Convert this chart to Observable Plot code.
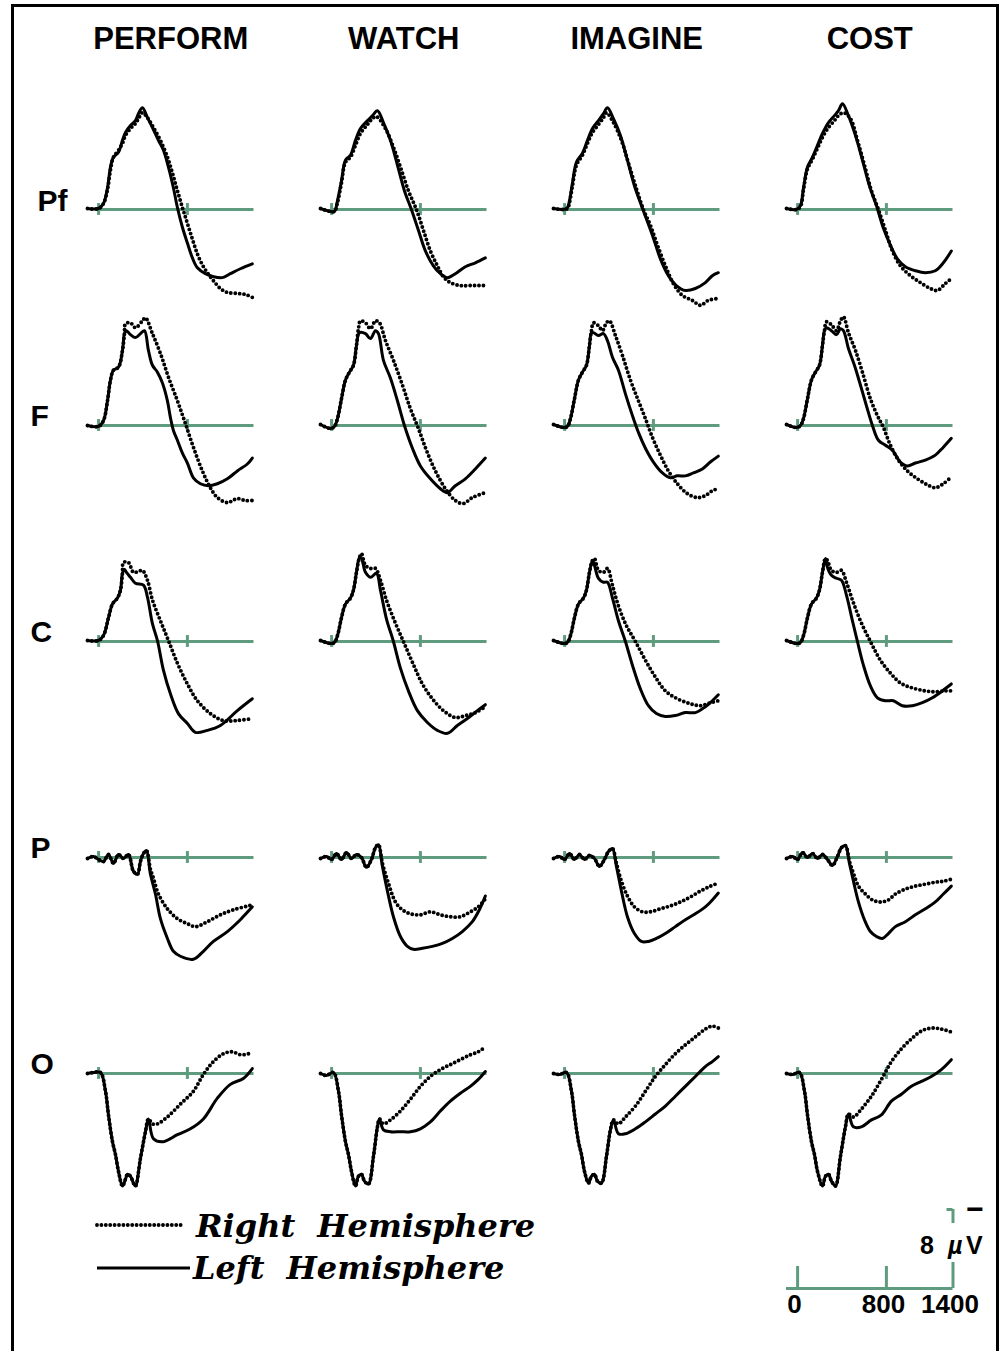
<!DOCTYPE html>
<html><head><meta charset="utf-8">
<script src="https://cdn.jsdelivr.net/npm/d3@7"></script>
<script src="https://cdn.jsdelivr.net/npm/@observablehq/plot@0.6"></script>
<style>
html,body{margin:0;padding:0;background:#fff;}
#fig{position:relative;width:1004px;height:1351px;overflow:hidden;background:#fff;}
#fig svg{position:absolute;left:0;background:transparent !important;overflow:visible;max-width:none;}
#frame{position:absolute;left:11px;top:4px;width:982px;height:1400px;border:3px solid #000;border-bottom:none;z-index:5;pointer-events:none;}
</style></head>
<body><div id="fig"><div id="frame"></div></div>
<script>
// ---------- categories / labels ----------
const columns = ["PERFORM", "WATCH", "IMAGINE", "COST"];
const rows = ["Pf", "F", "C", "P", "O"];
const baselineTicks = [0, 800];           // ms
const scaleTicks = [0, 800, 1400];        // ms
const scaleTickLabels = ["0", "800", "1400"];
const scaleAmplitude = 8;                 // µV
const legendLabels = ["Right Hemisphere", "Left Hemisphere"];

// ---------- waveforms: [time ms, amplitude µV] (negative up) ----------
const perform_Pf_right = [[-100,-0.1],[0,-0.1],[44,-0.6],[80,-2.0],[107,-4.0],[134,-5.3],[179,-6.0],[215,-6.7],[242,-7.5],[287,-8.2],[332,-8.7],[359,-9.2],[395,-9.8],[440,-9.3],[494,-8.3],[557,-7.0],[620,-5.3],[665,-3.7],[710,-1.9],[755,-0.2],[800,1.4],[845,3.0],[890,4.5],[935,5.6],[980,6.4],[1034,7.2],[1097,8.0],[1160,8.4],[1250,8.5],[1322,8.6],[1385,8.9]];
const perform_Pf_left = [[-100,-0.1],[0,-0.1],[44,-0.6],[80,-2.2],[107,-4.3],[134,-5.3],[179,-5.8],[215,-7.0],[242,-7.8],[287,-8.5],[332,-9.0],[359,-9.7],[395,-10.3],[440,-9.3],[485,-8.3],[539,-7.0],[584,-6.0],[629,-4.3],[674,-2.2],[710,-0.2],[755,1.8],[800,3.4],[845,4.9],[890,5.9],[962,6.5],[1034,6.8],[1115,6.9],[1187,6.5],[1277,6.0],[1385,5.5]];
const watch_Pf_right = [[-100,-0.1],[-10,0.2],[26,0.2],[53,-0.7],[89,-2.7],[125,-4.8],[170,-5.3],[215,-6.5],[260,-7.7],[323,-8.6],[368,-9.2],[404,-9.4],[485,-8.2],[557,-6.3],[620,-4.3],[692,-1.9],[764,0],[827,2.1],[890,4.2],[953,5.7],[1007,6.8],[1070,7.4],[1160,7.7],[1250,7.7],[1385,7.7]];
const watch_Pf_left = [[-100,-0.1],[-10,0.2],[26,0.2],[53,-0.9],[89,-2.9],[125,-5.0],[170,-5.5],[215,-7.0],[260,-8.2],[323,-9.0],[368,-9.5],[413,-10.0],[467,-8.8],[530,-7.0],[593,-4.5],[656,-1.9],[719,0],[782,2.1],[845,4.2],[917,5.7],[980,6.5],[1043,6.9],[1115,6.5],[1205,5.8],[1295,5.4],[1385,4.9]];
const imagine_Pf_right = [[-100,-0.1],[-10,0],[26,-0.1],[44,-0.7],[71,-2.4],[107,-4.5],[161,-5.5],[206,-6.7],[251,-7.8],[305,-8.6],[350,-9.3],[377,-9.8],[440,-8.8],[512,-7.0],[575,-4.7],[647,-2.1],[710,0],[773,1.6],[836,3.6],[908,5.7],[980,7.5],[1061,8.7],[1151,9.2],[1223,9.7],[1295,9.2],[1385,9.0]];
const imagine_Pf_left = [[-100,-0.1],[-10,0],[26,-0.2],[44,-0.9],[71,-2.7],[107,-4.8],[161,-5.7],[206,-7.0],[251,-8.2],[305,-9.0],[350,-9.7],[386,-10.3],[440,-9.2],[503,-7.5],[566,-5.0],[629,-2.4],[692,-0.4],[791,2.6],[863,5.0],[935,6.7],[1007,7.7],[1088,8.2],[1178,8.0],[1268,7.4],[1331,6.7],[1385,6.4]];
const cost_Pf_right = [[-100,-0.1],[-10,0],[26,-0.3],[53,-2.0],[89,-4.1],[134,-5.1],[179,-6.2],[224,-7.3],[278,-8.3],[332,-9.0],[368,-9.5],[413,-9.8],[476,-9.2],[539,-7.0],[602,-4.5],[665,-1.9],[728,0],[791,2.1],[854,4.2],[926,5.7],[1016,6.7],[1106,7.4],[1196,8.0],[1259,8.2],[1331,7.5],[1385,7.0]];
const cost_Pf_left = [[-100,-0.1],[-10,0],[26,-0.4],[53,-2.2],[89,-4.3],[134,-5.3],[179,-6.5],[224,-7.7],[278,-8.8],[332,-9.5],[368,-10.0],[404,-10.7],[458,-9.5],[521,-7.5],[584,-5.0],[647,-2.4],[710,-0.4],[773,1.9],[836,3.6],[899,5.0],[971,5.8],[1061,6.2],[1151,6.4],[1241,6.2],[1313,5.4],[1385,4.2]];

const perform_F_right = [[-100,0],[-1,0.1],[44,-0.5],[80,-2.5],[107,-4.6],[134,-5.6],[179,-5.9],[215,-7.6],[233,-9.3],[242,-10.3],[287,-10.4],[332,-9.9],[395,-10.6],[422,-10.9],[485,-9.3],[557,-7.3],[629,-4.9],[710,-2.5],[782,-0.2],[854,2.2],[935,4.6],[1007,6.3],[1070,7.3],[1160,7.8],[1250,7.4],[1322,7.6],[1385,7.6]];
const perform_F_left = [[-100,0],[-1,0.1],[44,-0.5],[80,-2.5],[107,-4.6],[134,-5.6],[179,-5.9],[215,-7.6],[233,-9.3],[251,-9.6],[287,-9.2],[332,-8.9],[377,-9.3],[413,-9.6],[449,-7.6],[485,-6.1],[530,-5.4],[575,-4.3],[620,-2.5],[647,-0.8],[674,0.5],[710,1.5],[755,2.8],[800,3.8],[854,5.3],[917,5.9],[989,6.1],[1070,5.9],[1160,5.4],[1250,4.6],[1340,3.9],[1385,3.3]];
const watch_F_right = [[-100,-0.1],[-10,0.3],[26,0.1],[53,-0.7],[89,-2.7],[125,-4.6],[161,-5.4],[197,-6.1],[224,-8.1],[242,-9.8],[260,-10.6],[305,-10.4],[350,-9.8],[395,-10.6],[431,-10.4],[485,-8.6],[557,-6.6],[638,-4.1],[710,-1.7],[782,0.3],[854,2.5],[935,4.6],[1025,6.4],[1115,7.6],[1187,7.9],[1268,7.3],[1385,6.8]];
const watch_F_left = [[-100,-0.1],[-10,0.3],[26,0.1],[53,-0.7],[89,-2.7],[125,-4.6],[161,-5.4],[197,-6.1],[224,-8.1],[251,-9.4],[305,-9.3],[350,-8.8],[395,-9.6],[422,-9.3],[467,-6.6],[530,-4.8],[593,-2.5],[656,0],[728,2.3],[800,4.1],[890,5.4],[980,6.4],[1043,6.8],[1115,6.1],[1205,5.4],[1295,4.4],[1385,3.3]];
const imagine_F_right = [[-100,-0.1],[-10,0.2],[26,0.1],[53,-0.7],[89,-2.7],[125,-4.6],[161,-5.4],[197,-6.1],[224,-8.1],[242,-9.6],[260,-10.4],[305,-10.1],[341,-9.6],[377,-10.4],[404,-10.6],[458,-9.1],[521,-7.1],[593,-4.6],[665,-2.5],[728,-0.7],[791,1.2],[863,3.0],[935,4.6],[1016,5.9],[1106,6.9],[1196,7.3],[1268,7.1],[1331,6.6],[1385,6.4]];
const imagine_F_left = [[-100,-0.1],[-10,0.2],[26,0.1],[53,-0.7],[89,-2.7],[125,-4.6],[161,-5.4],[197,-6.1],[224,-8.1],[242,-9.4],[260,-9.4],[305,-9.1],[350,-9.3],[386,-8.6],[431,-6.9],[485,-5.6],[548,-3.2],[611,-1.0],[665,0.7],[728,2.3],[800,3.7],[881,4.8],[953,5.3],[1016,5.1],[1088,5.1],[1160,4.8],[1241,4.4],[1313,3.7],[1385,3.1]];
const cost_F_right = [[-100,-0.1],[-10,0.2],[26,0],[53,-0.7],[89,-2.7],[125,-4.6],[161,-5.4],[197,-6.1],[224,-8.1],[242,-9.6],[260,-10.5],[305,-10.2],[350,-9.6],[386,-10.6],[413,-11.0],[458,-9.4],[521,-7.6],[584,-5.4],[656,-2.7],[719,-1.0],[773,0.2],[836,2.0],[908,3.5],[989,4.6],[1079,5.4],[1169,6.0],[1241,6.3],[1313,5.9],[1385,5.2]];
const cost_F_left = [[-100,-0.1],[-10,0.2],[26,0],[53,-0.7],[89,-2.7],[125,-4.6],[161,-5.4],[197,-6.1],[224,-8.1],[242,-9.6],[260,-9.9],[305,-9.6],[350,-9.2],[386,-9.8],[413,-9.6],[458,-7.8],[512,-6.1],[566,-4.1],[620,-2.0],[674,0],[728,1.5],[791,2.0],[854,2.5],[926,3.7],[989,4.1],[1061,3.8],[1151,3.5],[1241,3.0],[1313,2.2],[1385,1.3]];

const perform_C_right = [[-100,-0.1],[-1,-0.1],[44,-0.6],[89,-2.4],[125,-3.8],[170,-4.4],[197,-5.2],[215,-6.9],[224,-8.0],[269,-8.0],[314,-7.0],[359,-7.1],[395,-7.2],[440,-6.2],[485,-4.2],[557,-2.1],[629,-0.1],[710,2.2],[800,4.3],[890,6.0],[1007,7.3],[1124,8.0],[1250,8.0],[1385,7.8]];
const perform_C_left = [[-100,-0.1],[-1,-0.1],[44,-0.6],[89,-2.4],[125,-3.8],[170,-4.4],[197,-5.2],[215,-6.9],[233,-7.3],[251,-7.0],[287,-6.5],[332,-5.9],[404,-5.7],[440,-4.5],[485,-1.8],[530,-0.1],[584,2.9],[647,5.3],[719,7.3],[800,8.3],[872,9.2],[980,9.0],[1097,8.5],[1250,7.0],[1385,5.8]];
const watch_C_right = [[-100,-0.1],[-10,0.2],[26,0.1],[53,-0.6],[89,-2.4],[125,-3.8],[170,-4.4],[197,-5.2],[224,-7.0],[251,-8.5],[269,-8.9],[305,-7.7],[350,-7.4],[395,-7.4],[440,-6.2],[494,-4.2],[566,-2.1],[647,0],[728,2.1],[818,4.3],[908,5.8],[1007,7.0],[1115,7.7],[1205,7.5],[1295,7.2],[1385,6.6]];
const watch_C_left = [[-100,-0.1],[-10,0.2],[26,0.1],[53,-0.6],[89,-2.4],[125,-3.8],[170,-4.4],[197,-5.2],[224,-7.0],[251,-8.5],[269,-8.4],[305,-7.0],[350,-6.5],[404,-6.9],[440,-5.2],[494,-2.3],[557,0],[620,2.7],[692,5.0],[773,7.0],[863,8.2],[953,9.0],[1043,9.3],[1133,8.5],[1223,7.8],[1313,7.0],[1385,6.4]];
const imagine_C_right = [[-100,-0.1],[-10,0.2],[26,0.1],[53,-0.6],[89,-2.4],[125,-3.8],[170,-4.4],[197,-5.2],[224,-7.0],[251,-8.2],[269,-8.4],[305,-7.2],[350,-7.0],[386,-7.4],[431,-5.7],[485,-3.6],[557,-1.6],[638,0],[728,1.9],[818,3.6],[908,5.0],[1016,5.8],[1133,6.3],[1223,6.5],[1313,6.2],[1385,6.0]];
const imagine_C_left = [[-100,-0.1],[-10,0.2],[26,0.1],[53,-0.6],[89,-2.4],[125,-3.8],[170,-4.4],[197,-5.2],[224,-7.0],[251,-8.2],[269,-7.7],[305,-6.4],[350,-6.0],[386,-6.0],[431,-4.4],[485,-2.1],[548,0],[611,2.4],[683,4.8],[755,6.5],[827,7.3],[908,7.6],[998,7.5],[1088,7.2],[1178,7.2],[1268,6.6],[1331,6.0],[1385,5.4]];
const cost_C_right = [[-100,-0.1],[-10,0.2],[26,0.1],[53,-0.6],[89,-2.4],[125,-3.8],[170,-4.4],[197,-5.2],[224,-7.0],[251,-8.4],[269,-8.2],[305,-7.2],[350,-7.0],[395,-7.2],[440,-6.0],[494,-4.2],[566,-2.1],[656,0],[746,1.9],[836,3.2],[926,4.2],[1034,4.7],[1151,5.0],[1241,5.1],[1331,5.0],[1385,5.0]];
const cost_C_left = [[-100,-0.1],[-10,0.2],[26,0.1],[53,-0.6],[89,-2.4],[125,-3.8],[170,-4.4],[197,-5.2],[224,-7.0],[251,-8.4],[269,-7.5],[305,-6.7],[350,-6.4],[395,-6.2],[440,-4.7],[494,-2.1],[539,0],[593,2.4],[656,4.5],[719,5.7],[791,6.0],[863,6.0],[944,6.5],[1034,6.5],[1124,6.2],[1214,5.7],[1304,5.0],[1385,4.3]];

const perform_P_right = [[-100,0.1],[-46,-0.1],[-1,0.2],[44,0.4],[89,-0.3],[134,0.6],[179,-0.3],[224,0.1],[269,-0.3],[314,1.4],[350,1.7],[377,0.4],[404,-0.4],[431,-0.7],[467,1.2],[494,2.1],[539,3.7],[620,5.2],[710,6.2],[800,6.7],[872,7.0],[980,6.5],[1097,5.8],[1214,5.3],[1385,4.8]];
const perform_P_left = [[-100,0.1],[-46,-0.1],[-1,0.2],[44,0.4],[89,-0.3],[134,0.6],[179,-0.3],[224,0.1],[269,-0.3],[314,1.4],[350,1.7],[377,0.4],[404,-0.4],[431,-0.7],[467,1.7],[512,3.7],[557,6.2],[620,8.2],[674,9.5],[737,10.0],[854,10.3],[944,9.5],[1034,8.5],[1160,7.5],[1277,6.3],[1385,5.0]];
const watch_P_right = [[-100,0.1],[-46,-0.1],[-1,0.2],[44,-0.4],[89,0.2],[134,-0.5],[179,0.1],[224,-0.3],[269,0],[314,1.0],[359,0.2],[395,-1.0],[422,-1.3],[458,0.6],[512,2.6],[575,4.5],[638,5.3],[710,5.7],[800,5.8],[890,5.5],[980,5.8],[1070,6.0],[1160,6.0],[1250,5.5],[1322,5.0],[1385,4.2]];
const watch_P_left = [[-100,0.1],[-46,-0.1],[-1,0.2],[44,-0.4],[89,0.2],[134,-0.5],[179,0.1],[224,-0.3],[269,0],[314,1.0],[359,0.2],[395,-1.0],[422,-1.3],[458,0.9],[503,3.4],[557,6.0],[620,8.0],[683,9.0],[737,9.3],[818,9.2],[908,9.0],[998,8.7],[1088,8.2],[1178,7.5],[1268,6.5],[1331,5.3],[1385,3.9]];
const imagine_P_right = [[-100,0.1],[-46,-0.1],[-1,0.2],[44,-0.4],[89,0.2],[134,-0.3],[179,0.2],[224,-0.2],[269,0.1],[314,0.9],[359,0.2],[395,-0.6],[431,-0.9],[467,0.6],[512,2.4],[566,3.9],[629,5.0],[701,5.5],[773,5.5],[863,5.2],[953,4.9],[1043,4.5],[1133,4.0],[1223,3.4],[1313,2.9],[1385,2.6]];
const imagine_P_left = [[-100,0.1],[-46,-0.1],[-1,0.2],[44,-0.4],[89,0.2],[134,-0.3],[179,0.2],[224,-0.2],[269,0.1],[314,0.9],[359,0.2],[395,-0.6],[431,-0.9],[467,0.9],[512,3.4],[566,6.0],[629,7.7],[692,8.5],[755,8.5],[827,8.2],[908,7.7],[998,7.0],[1088,6.3],[1178,5.7],[1268,5.0],[1331,4.3],[1385,3.6]];
const cost_P_right = [[-100,0.1],[-46,-0.1],[-1,0.2],[44,-0.5],[89,0],[134,-0.4],[179,0.1],[224,-0.3],[269,0.2],[314,0.8],[359,-0.1],[395,-1.0],[431,-1.2],[467,0.4],[503,1.6],[548,2.9],[611,3.7],[674,4.3],[746,4.5],[818,4.3],[881,3.7],[971,3.2],[1061,2.9],[1151,2.7],[1241,2.5],[1313,2.4],[1385,2.2]];
const cost_P_left = [[-100,0.1],[-46,-0.1],[-1,0.2],[44,-0.5],[89,0],[134,-0.4],[179,0.1],[224,-0.3],[269,0.2],[314,0.8],[359,-0.1],[395,-1.0],[431,-1.2],[467,0.6],[503,2.4],[548,4.5],[602,6.3],[656,7.5],[710,8.0],[764,8.2],[818,7.7],[881,7.0],[971,6.5],[1061,5.8],[1151,5.2],[1241,4.5],[1313,3.7],[1385,2.9]];

const perform_O_right = [[-100,0],[-46,-0.1],[17,-0.1],[62,1.8],[89,4.2],[125,6.9],[152,8.2],[179,9.9],[215,11.4],[242,10.7],[260,10.2],[287,10.4],[314,11.1],[332,11.4],[377,8.6],[422,5.9],[449,4.6],[485,5.1],[530,5.1],[620,4.4],[737,3.1],[854,1.8],[944,0.1],[1034,-1.2],[1124,-2.0],[1205,-2.2],[1277,-1.9],[1349,-2.0],[1385,-2.2]];
const perform_O_left = [[-100,0],[-46,-0.1],[17,-0.1],[62,1.8],[89,4.2],[125,6.9],[152,8.2],[179,9.9],[215,11.4],[242,10.7],[260,10.2],[287,10.4],[314,11.1],[332,11.4],[377,8.6],[422,5.9],[449,4.6],[494,6.6],[584,6.9],[710,6.2],[827,5.6],[944,4.6],[1070,2.5],[1187,1.1],[1304,0.5],[1385,-0.5]];
const watch_O_right = [[-100,0],[-46,0.2],[17,-0.1],[62,1.8],[89,4.2],[125,6.9],[152,8.2],[179,9.9],[215,11.4],[242,10.4],[269,10.2],[296,10.9],[332,11.2],[377,8.4],[413,5.4],[431,4.6],[467,5.1],[530,4.7],[620,3.8],[710,2.6],[800,1.3],[890,0.3],[980,-0.4],[1070,-0.9],[1160,-1.4],[1250,-1.9],[1322,-2.2],[1385,-2.7]];
const watch_O_left = [[-100,0],[-46,0.2],[17,-0.1],[62,1.8],[89,4.2],[125,6.9],[152,8.2],[179,9.9],[215,11.4],[242,10.4],[269,10.2],[296,10.9],[332,11.2],[377,8.4],[413,5.4],[431,4.6],[467,5.7],[530,5.9],[620,5.9],[710,5.9],[800,5.6],[890,4.9],[980,3.8],[1070,2.8],[1160,2.0],[1250,1.3],[1322,0.6],[1385,-0.2]];
const imagine_O_right = [[-100,0],[-46,0.1],[17,-0.1],[62,1.8],[89,4.2],[125,6.9],[152,8.2],[179,9.9],[215,11.1],[242,10.4],[269,10.2],[296,10.9],[332,11.1],[377,8.4],[413,5.7],[440,4.7],[485,5.1],[548,4.4],[638,3.3],[728,1.8],[818,0.3],[908,-0.9],[998,-2.0],[1088,-2.9],[1178,-3.7],[1268,-4.5],[1331,-4.8],[1385,-4.6]];
const imagine_O_left = [[-100,0],[-46,0.1],[17,-0.1],[62,1.8],[89,4.2],[125,6.9],[152,8.2],[179,9.9],[215,11.1],[242,10.4],[269,10.2],[296,10.9],[332,11.1],[377,8.4],[413,5.7],[440,4.7],[485,6.1],[548,6.1],[638,5.6],[728,4.9],[818,4.1],[908,3.3],[998,2.3],[1088,1.3],[1178,0.3],[1268,-0.7],[1331,-1.2],[1385,-1.7]];
const cost_O_right = [[-100,0],[-46,0.1],[17,-0.1],[62,1.8],[89,4.2],[125,6.9],[152,8.2],[179,9.9],[224,11.4],[251,10.4],[278,10.2],[305,10.9],[341,11.4],[386,8.4],[431,5.4],[458,4.1],[503,4.4],[575,3.6],[665,2.3],[755,0.6],[845,-1.2],[935,-2.5],[1025,-3.5],[1115,-4.3],[1205,-4.6],[1295,-4.5],[1385,-4.2]];
const cost_O_left = [[-100,0],[-46,0.1],[17,-0.1],[62,1.8],[89,4.2],[125,6.9],[152,8.2],[179,9.9],[224,11.4],[251,10.4],[278,10.2],[305,10.9],[341,11.4],[386,8.4],[431,5.4],[458,4.1],[503,5.4],[575,5.4],[665,4.7],[755,4.2],[845,2.8],[935,2.1],[1025,1.3],[1115,0.8],[1205,0.3],[1295,-0.4],[1385,-1.4]];

// ---------- assemble ----------
const waves = {
  PERFORM: {Pf: [perform_Pf_right, perform_Pf_left], F: [perform_F_right, perform_F_left], C: [perform_C_right, perform_C_left], P: [perform_P_right, perform_P_left], O: [perform_O_right, perform_O_left]},
  WATCH:   {Pf: [watch_Pf_right, watch_Pf_left], F: [watch_F_right, watch_F_left], C: [watch_C_right, watch_C_left], P: [watch_P_right, watch_P_left], O: [watch_O_right, watch_O_left]},
  IMAGINE: {Pf: [imagine_Pf_right, imagine_Pf_left], F: [imagine_F_right, imagine_F_left], C: [imagine_C_right, imagine_C_left], P: [imagine_P_right, imagine_P_left], O: [imagine_O_right, imagine_O_left]},
  COST:    {Pf: [cost_Pf_right, cost_Pf_left], F: [cost_F_right, cost_F_left], C: [cost_C_right, cost_C_left], P: [cost_P_right, cost_P_left], O: [cost_O_right, cost_O_left]}
};
const records = [];
for (const col of columns) for (const row of rows) {
  const [R, L] = waves[col][row];
  for (const [t, v] of R) records.push({col, row, hemi: "R", t, v});
  for (const [t, v] of L) records.push({col, row, hemi: "L", t, v});
}
const panels = columns.flatMap(col => rows.map(row => ({col, row})));
const tickRecs = panels.flatMap(p => baselineTicks.map(t => ({...p, t})));
const titleRecs = columns.map(col => ({col, row: rows[0]}));
const labelRecs = rows.map(row => ({col: columns[0], row}));

const GREEN = "#5f9b7e";
const SANS = "Liberation Sans, Arial, Helvetica, sans-serif";
const DOTS = {stroke: "#000", strokeWidth: 3.9, strokeDasharray: "0,4.4", strokeLinecap: "round"};
const fig = document.getElementById("fig");

const main = Plot.plot({
  width: 1004, height: 1200,
  marginLeft: 87, marginRight: 51.5, marginTop: 104, marginBottom: 16,
  style: {background: "transparent", overflow: "visible"},
  fx: {domain: columns, paddingInner: 66.5 / 233, paddingOuter: 0, round: false, axis: null},
  fy: {domain: rows, paddingInner: 0, paddingOuter: 0, round: false, axis: null},
  x: {domain: [-100, 1400], axis: null},
  y: {domain: [-10.63, 11.24], reverse: true, axis: null},
  marks: [
    Plot.ruleY(panels, {fx: "col", fy: "row", y: 0, x1: 0, x2: 1400, stroke: GREEN, strokeWidth: 3}),
    Plot.ruleX(tickRecs, {fx: "col", fy: "row", x: "t", y1: -0.6, y2: 0.6, stroke: GREEN, strokeWidth: 3}),
    Plot.line(records.filter(d => d.hemi === "R"), {fx: "col", fy: "row", x: "t", y: "v", z: d => d.col + d.row,
      ...DOTS, curve: "catmull-rom"}),
    Plot.line(records.filter(d => d.hemi === "L"), {fx: "col", fy: "row", x: "t", y: "v", z: d => d.col + d.row,
      stroke: "#000", strokeWidth: 3, strokeLinejoin: "round", strokeLinecap: "round", curve: "catmull-rom"}),
    Plot.text(titleRecs, {fx: "col", fy: "row", frameAnchor: "top", text: "col", dy: -56, lineAnchor: "bottom",
      fontSize: 31, fontWeight: "bold", fontFamily: SANS, fill: "#000"}),
    Plot.text(labelRecs.filter(d => d.row === "Pf"), {fx: "col", fy: "row", frameAnchor: "left", y: 0, text: "row",
      textAnchor: "start", dx: -50, dy: 2, lineAnchor: "bottom", fontSize: 30, fontWeight: "bold", fontFamily: SANS, fill: "#000"}),
    Plot.text(labelRecs.filter(d => d.row !== "Pf"), {fx: "col", fy: "row", frameAnchor: "left", y: 0, text: "row",
      textAnchor: "start", dx: -57, dy: 1, lineAnchor: "bottom", fontSize: 30, fontWeight: "bold", fontFamily: SANS, fill: "#000"})
  ]
});
main.style.top = "0px";
fig.appendChild(main);

// ---------- calibration bar ----------
const cal = Plot.plot({
  width: 1004, height: 140,
  marginLeft: 786, marginRight: 51.5, marginTop: 0, marginBottom: 0,
  style: {background: "transparent", overflow: "visible"},
  x: {domain: [-100, 1400], axis: null},
  y: {domain: [-8.91, 5.27], reverse: true, axis: null},
  marks: [
    Plot.ruleY([0], {x1: -100, x2: 1400, stroke: GREEN, strokeWidth: 3}),
    Plot.ruleX(scaleTicks.slice(0, 2), {x: d => d, y1: 0, y2: -2.23, stroke: GREEN, strokeWidth: 3}),
    Plot.ruleX([scaleTicks[2]], {x: d => d, y1: 0, y2: -2.63, stroke: GREEN, strokeWidth: 3}),
    Plot.ruleX([scaleTicks[2]], {x: d => d, y1: -6.58, y2: -scaleAmplitude, stroke: GREEN, strokeWidth: 3}),
    Plot.ruleY([-scaleAmplitude], {x1: 1346, x2: 1400, stroke: GREEN, strokeWidth: 3}),
    Plot.text(scaleTicks, {x: d => d, y: 0, text: (d, i) => scaleTickLabels[i], dy: 25, dx: -3, lineAnchor: "bottom",
      fontSize: 26, fontWeight: "bold", fontFamily: SANS, fill: "#000", letterSpacing: 1}),
    Plot.text([String(scaleAmplitude)], {x: 1400, y: -3.54, text: d => d, dx: -26, lineAnchor: "bottom",
      fontSize: 25, fontWeight: "bold", fontFamily: SANS, fill: "#000"}),
    Plot.text(["µ"], {x: 1400, y: -3.54, text: d => d, dx: -5, textAnchor: "start", lineAnchor: "bottom",
      fontSize: 25, fontWeight: "bold", fontStyle: "italic", fontFamily: SANS, fill: "#000"}),
    Plot.text(["V"], {x: 1400, y: -3.54, text: d => d, dx: 13, textAnchor: "start", lineAnchor: "bottom",
      fontSize: 25, fontWeight: "bold", fontFamily: SANS, fill: "#000"}),
    Plot.text(["−"], {x: 1400, y: -scaleAmplitude, text: d => d, dx: 22, lineAnchor: "middle",
      fontSize: 30, fontWeight: "bold", fontFamily: SANS, fill: "#000"})
  ]
});
cal.style.top = "1200px";
fig.appendChild(cal);

// ---------- legend ----------
const leg = d3.create("svg").attr("width", 600).attr("height", 100)
  .style("position", "absolute").style("left", "0px").style("top", "1200px");
leg.append("line").attr("x1", 97).attr("x2", 183).attr("y1", 25).attr("y2", 25)
  .attr("stroke", DOTS.stroke).attr("stroke-width", DOTS.strokeWidth).attr("stroke-dasharray", DOTS.strokeDasharray).attr("stroke-linecap", "round");
leg.append("line").attr("x1", 97).attr("x2", 190).attr("y1", 68).attr("y2", 68)
  .attr("stroke", "#000").attr("stroke-width", 3);
const lt = [[196, 37], [193, 79]];
legendLabels.forEach((s, i) => {
  leg.append("text").attr("x", lt[i][0]).attr("y", lt[i][1]).text(s)
    .attr("font-family", "DejaVu Serif, serif").attr("font-weight", "bold").attr("font-style", "italic")
    .attr("font-size", 32).attr("word-spacing", 11).attr("fill", "#000");
});
fig.appendChild(leg.node());
</script>
</body></html>
